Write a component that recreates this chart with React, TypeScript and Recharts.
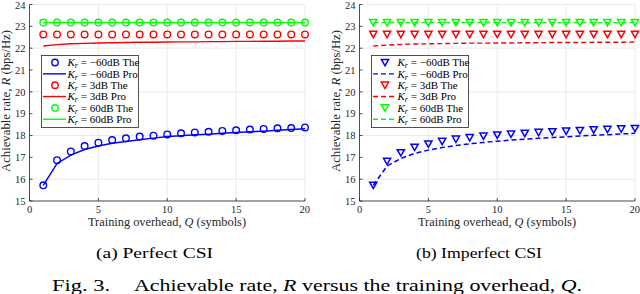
import React from 'react';
import { ComposedChart, Line, XAxis, YAxis, CartesianGrid, Legend } from 'recharts';

const Q = [1, 2, 3, 4, 5, 6, 7, 8, 9, 10, 11, 12, 13, 14, 15, 16, 17, 18, 19, 20];
const qTicks = [0, 5, 10, 15, 20];
const rateTicks = [15, 16, 17, 18, 19, 20, 21, 22, 23, 24];

// (a) Perfect CSI
const perfBlueThe = [15.72, 16.87, 17.27, 17.52, 17.67, 17.79, 17.87, 17.95, 17.99, 18.05, 18.1, 18.14, 18.17, 18.21, 18.24, 18.27, 18.3, 18.33, 18.34, 18.37];
const perfBluePro = [15.72, 16.72, 17.1, 17.36, 17.52, 17.64, 17.72, 17.8, 17.88, 17.95, 17.99, 18.03, 18.06, 18.1, 18.14, 18.17, 18.2, 18.24, 18.27, 18.31];
const perfRedThe = [22.63, 22.63, 22.63, 22.63, 22.63, 22.63, 22.63, 22.63, 22.63, 22.63, 22.63, 22.63, 22.63, 22.63, 22.63, 22.63, 22.63, 22.63, 22.63, 22.63];
const perfRedPro = [22.1, 22.16, 22.2, 22.22, 22.24, 22.25, 22.26, 22.27, 22.27, 22.28, 22.29, 22.29, 22.3, 22.3, 22.31, 22.31, 22.32, 22.32, 22.33, 22.33];
const perfGreenThe = [23.17, 23.17, 23.17, 23.17, 23.17, 23.17, 23.17, 23.17, 23.17, 23.17, 23.17, 23.17, 23.17, 23.17, 23.17, 23.17, 23.17, 23.17, 23.17, 23.17];
const perfGreenPro = [23.17, 23.17, 23.17, 23.17, 23.17, 23.17, 23.17, 23.17, 23.17, 23.17, 23.17, 23.17, 23.17, 23.17, 23.17, 23.17, 23.17, 23.17, 23.17, 23.17];

// (b) Imperfect CSI
const impBlueThe = [15.72, 16.82, 17.21, 17.46, 17.61, 17.73, 17.83, 17.9, 17.97, 18.02, 18.06, 18.1, 18.14, 18.17, 18.2, 18.23, 18.26, 18.28, 18.3, 18.32];
const impBluePro = [15.72, 16.6, 16.95, 17.18, 17.33, 17.45, 17.54, 17.62, 17.68, 17.74, 17.79, 17.83, 17.87, 17.91, 17.94, 17.98, 18.01, 18.04, 18.07, 18.1];
const impRedThe = [22.63, 22.63, 22.63, 22.63, 22.63, 22.63, 22.63, 22.63, 22.63, 22.63, 22.63, 22.63, 22.63, 22.63, 22.63, 22.63, 22.63, 22.63, 22.63, 22.63];
const impRedPro = [22.1, 22.14, 22.17, 22.19, 22.2, 22.21, 22.22, 22.23, 22.23, 22.24, 22.24, 22.25, 22.25, 22.26, 22.26, 22.26, 22.27, 22.27, 22.27, 22.28];
const impGreenThe = [23.17, 23.17, 23.17, 23.17, 23.17, 23.17, 23.17, 23.17, 23.17, 23.17, 23.17, 23.17, 23.17, 23.17, 23.17, 23.17, 23.17, 23.17, 23.17, 23.17];
const impGreenPro = [23.17, 23.17, 23.17, 23.17, 23.17, 23.17, 23.17, 23.17, 23.17, 23.17, 23.17, 23.17, 23.17, 23.17, 23.17, 23.17, 23.17, 23.17, 23.17, 23.17];

const krLabels = ['\u221260dB', '3dB', '60dB'];
const seriesColors = ['#0000ff', '#ff0000', '#00ff00'];

const FONT = '"Liberation Serif", serif';
const AX = '#262626';

const buildRows = (sets: number[][]) =>
  Q.map((q, i) => ({
    q,
    blueThe: sets[0][i],
    bluePro: sets[1][i],
    redThe: sets[2][i],
    redPro: sets[3][i],
    greenThe: sets[4][i],
    greenPro: sets[5][i],
  }));

const perfRows = buildRows([perfBlueThe, perfBluePro, perfRedThe, perfRedPro, perfGreenThe, perfGreenPro]);
const impRows = buildRows([impBlueThe, impBluePro, impRedThe, impRedPro, impGreenThe, impGreenPro]);

const makeCircle = (color: string) => (p: any) => {
  if (p.cx == null || p.cy == null) return <g key={p.index} />;
  return <circle key={p.index} cx={p.cx} cy={p.cy} r={3.3} fill="none" stroke={color} strokeWidth={1.4} />;
};
const makeTri = (color: string) => (p: any) => {
  if (p.cx == null || p.cy == null) return <g key={p.index} />;
  const { cx, cy } = p;
  return (
    <path
      key={p.index}
      d={`M${cx - 3.6},${cy - 3.1} L${cx + 3.6},${cy - 3.1} L${cx},${cy + 3.3} Z`}
      fill="none"
      stroke={color}
      strokeWidth={1.5}
    />
  );
};

const KrText = ({ x, y, label }: { x: number; y: number; label: string }) => (
  <text x={x} y={y} fontFamily={FONT} fontSize={11} fill="#000">
    <tspan fontStyle="italic">K</tspan>
    <tspan fontStyle="italic" fontSize={8} dy={2}>r</tspan>
    <tspan dy={-2}>{' = ' + label}</tspan>
  </text>
);

const makeLegend = (tri: boolean) => () => {
  const rows: any[] = [];
  krLabels.forEach((lab, k) => {
    rows.push({ kind: 'the', color: seriesColors[k], text: lab + ' The' });
    rows.push({ kind: 'pro', color: seriesColors[k], text: lab + ' Pro' });
  });
  return (
    <svg width={99} height={74} style={{ display: 'block', overflow: 'visible' }}>
      <rect x={0.5} y={0.5} width={97} height={72} fill="#fff" stroke={AX} strokeWidth={0.8} />
      {rows.map((r, i) => {
        const cy = 7.5 + i * 11.35;
        return (
          <g key={i}>
            {r.kind === 'the' ? (
              tri ? (
                <path d={`M${14 - 3.6},${cy - 3.1} L${14 + 3.6},${cy - 3.1} L14,${cy + 3.3} Z`} fill="none" stroke={r.color} strokeWidth={1.5} />
              ) : (
                <circle cx={14} cy={cy} r={3.2} fill="none" stroke={r.color} strokeWidth={1.4} />
              )
            ) : (
              <line x1={2} x2={25} y1={cy} y2={cy} stroke={r.color} strokeWidth={1.4} strokeDasharray={tri ? '5 3' : undefined} />
            )}
            <KrText x={26.5} y={cy + 3.7} label={r.text} />
          </g>
        );
      })}
    </svg>
  );
};

const YLabel = () => (
  <text transform="translate(9.5,101) rotate(-90)" textAnchor="middle" fontFamily={FONT} fontSize={12} fill={AX} textLength={142} lengthAdjust="spacingAndGlyphs">
    Achievable rate, <tspan fontStyle="italic">R</tspan> (bps/Hz)
  </text>
);
const XLabel = () => (
  <text x={167} y={225.5} textAnchor="middle" fontFamily={FONT} fontSize={12.5} fill={AX} textLength={158} lengthAdjust="spacingAndGlyphs">
    Training overhead, <tspan fontStyle="italic">Q</tspan> (symbols)
  </text>
);

const Panel = ({ rows, imperfect }: { rows: any[]; imperfect: boolean }) => {
  const dash = imperfect ? '5 3' : undefined;
  const mk = imperfect ? makeTri : makeCircle;
  const tickStyle = { fontFamily: FONT, fontSize: 10.5, fill: AX };
  return (
    <ComposedChart width={310} height={240} data={rows} margin={{ top: 4.5, right: 5, left: 0, bottom: 0 }}>
      <CartesianGrid stroke="#e6e6e6" strokeWidth={0.8} />
      <XAxis
        dataKey="q"
        type="number"
        domain={[0, 20]}
        ticks={qTicks}
        height={39}
        tick={tickStyle}
        tickSize={-3}
        tickMargin={8}
        stroke={AX}
        axisLine={{ stroke: AX, strokeWidth: 0.8 }}
        tickLine={{ stroke: AX, strokeWidth: 0.8 }}
        label={{ content: () => <XLabel /> }}
      />
      <XAxis
        xAxisId="top"
        orientation="top"
        dataKey="q"
        type="number"
        domain={[0, 20]}
        ticks={qTicks}
        height={0}
        tick={false}
        tickSize={-3}
        axisLine={{ stroke: AX, strokeWidth: 0.8 }}
        tickLine={{ stroke: AX, strokeWidth: 0.8 }}
      />
      <YAxis
        type="number"
        domain={[15, 24]}
        ticks={rateTicks}
        width={29.5}
        tick={tickStyle}
        tickSize={-3}
        tickMargin={7}
        axisLine={{ stroke: AX, strokeWidth: 0.8 }}
        tickLine={{ stroke: AX, strokeWidth: 0.8 }}
        label={{ content: () => <YLabel /> }}
      />
      <YAxis
        yAxisId="right"
        orientation="right"
        type="number"
        domain={[15, 24]}
        ticks={rateTicks}
        width={0}
        tick={false}
        tickSize={-3}
        axisLine={{ stroke: AX, strokeWidth: 0.8 }}
        tickLine={{ stroke: AX, strokeWidth: 0.8 }}
      />
      <Line dataKey="blueThe" stroke="none" dot={mk('#0000ff')} isAnimationActive={false} activeDot={false} />
      <Line dataKey="bluePro" stroke="#0000ff" strokeWidth={1.5} strokeDasharray={dash} dot={false} isAnimationActive={false} activeDot={false} />
      <Line dataKey="redThe" stroke="none" dot={mk('#ff0000')} isAnimationActive={false} activeDot={false} />
      <Line dataKey="redPro" stroke="#ff0000" strokeWidth={1.4} strokeDasharray={dash} dot={false} isAnimationActive={false} activeDot={false} />
      <Line dataKey="greenThe" stroke="none" dot={mk('#00ff00')} isAnimationActive={false} activeDot={false} />
      <Line dataKey="greenPro" stroke="#00ff00" strokeWidth={1.4} strokeDasharray={dash} dot={false} isAnimationActive={false} activeDot={false} />
      <Legend
        layout="vertical"
        align="center"
        verticalAlign="middle"
        content={makeLegend(imperfect)}
        wrapperStyle={{ position: 'absolute', left: 41, top: 55, width: 99, height: 74, bottom: 'auto', right: 'auto', margin: 0 }}
      />
    </ComposedChart>
  );
};

export default function App() {
  return (
    <div style={{ position: 'absolute', left: 0, top: 0, width: 640, height: 294, background: '#fff', overflow: 'hidden' }}>
      <div style={{ position: 'absolute', left: 0, top: 0 }}>
        <Panel rows={perfRows} imperfect={false} />
      </div>
      <div style={{ position: 'absolute', left: 330, top: 0 }}>
        <Panel rows={impRows} imperfect={true} />
      </div>
      <svg width={640} height={294} style={{ position: 'absolute', left: 0, top: 0, pointerEvents: 'none' }}>
        <text x={96} y={258} fontFamily={FONT} fontSize={15.5} textLength={117} lengthAdjust="spacingAndGlyphs" fill="#000">
          (a) Perfect CSI
        </text>
        <text x={416} y={258} fontFamily={FONT} fontSize={15.5} textLength={126} lengthAdjust="spacingAndGlyphs" fill="#000">
          (b) Imperfect CSI
        </text>
        <text x={52} y={291} fontFamily={FONT} fontSize={17} textLength={58} lengthAdjust="spacingAndGlyphs" fill="#000">
          Fig. 3.
        </text>
        <text x={134} y={291} fontFamily={FONT} fontSize={17} textLength={448} lengthAdjust="spacingAndGlyphs" fill="#000">
          Achievable rate, <tspan fontStyle="italic">R</tspan> versus the training overhead, <tspan fontStyle="italic">Q</tspan>.
        </text>
      </svg>
    </div>
  );
}
